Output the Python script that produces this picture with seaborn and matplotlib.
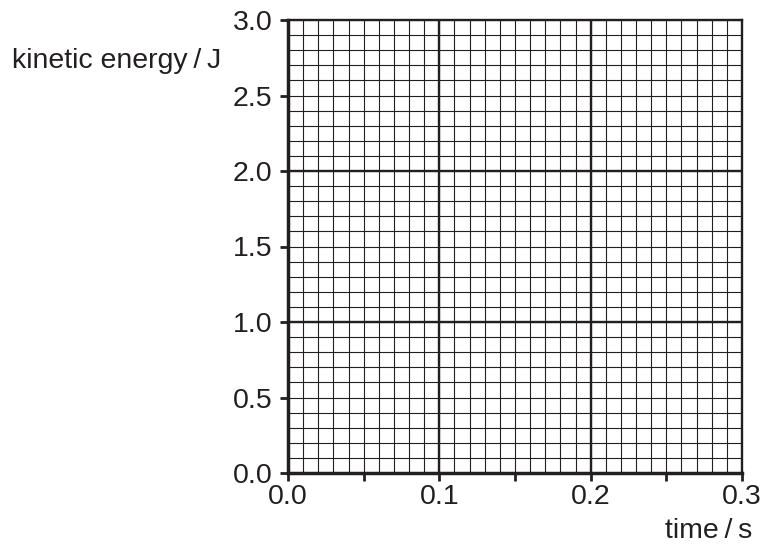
import numpy as np
import matplotlib
matplotlib.use("Agg")
import matplotlib.pyplot as plt
import seaborn as sns

# Axis definitions
x_ticks = [0.0, 0.05, 0.1, 0.15, 0.2, 0.25, 0.3]
x_labels = ["0.0", "", "0.1", "", "0.2", "", "0.3"]
y_ticks = [0.0, 0.5, 1.0, 1.5, 2.0, 2.5, 3.0]
y_labels = ["0.0", "0.5", "1.0", "1.5", "2.0", "2.5", "3.0"]
x_minor_step = 0.01
y_minor_step = 0.1
x_major_lines = [0.1, 0.2]
y_major_lines = [1.0, 2.0]
x_label = "time\u2009/\u2009s"
y_label = "kinetic energy\u2009/\u2009J"

sns.set_style("ticks")
plt.rcParams['font.family'] = ['Liberation Sans', 'DejaVu Sans']

fig = plt.figure(figsize=(7.64, 5.47), dpi=100)
ax = fig.add_axes([288/764, 1 - 473/547, (742-288)/764, (473-20)/547])

ink = "#231f20"
xmin, xmax = x_ticks[0], x_ticks[-1]
ymin, ymax = y_ticks[0], y_ticks[-1]

for xv in np.arange(xmin, xmax + 1e-9, x_minor_step):
    ax.axvline(xv, color=ink, lw=0.8, zorder=1)
for yv in np.arange(ymin, ymax + 1e-9, y_minor_step):
    ax.axhline(yv, color=ink, lw=0.8, zorder=1)
for xv in x_major_lines:
    ax.axvline(xv, color=ink, lw=1.7, zorder=2)
for yv in y_major_lines:
    ax.axhline(yv, color=ink, lw=1.7, zorder=2)

ax.set_xlim(xmin, xmax)
ax.set_ylim(ymin, ymax)
ax.set_xticks(x_ticks)
ax.set_xticklabels(x_labels)
ax.set_yticks(y_ticks)
ax.set_yticklabels(y_labels)
ax.tick_params(axis="both", direction="out", length=6, width=2.0, color=ink,
               labelsize=20.5, labelcolor=ink)
ax.tick_params(axis="y", pad=5)
ax.tick_params(axis="x", pad=2)
for side in ["left", "bottom", "top", "right"]:
    ax.spines[side].set_visible(True)
    ax.spines[side].set_color(ink)
for side in ["left", "bottom"]:
    ax.spines[side].set_linewidth(2.5)
for side in ["top", "right"]:
    ax.spines[side].set_linewidth(1.7)

fig.text(12/764, 1 - 68/547, y_label, fontsize=20.5, color=ink, ha="left", va="baseline")
fig.text(752/764, 1 - 538/547, x_label, fontsize=20.5, color=ink, ha="right", va="baseline")

fig.savefig("out.png", dpi=100)
